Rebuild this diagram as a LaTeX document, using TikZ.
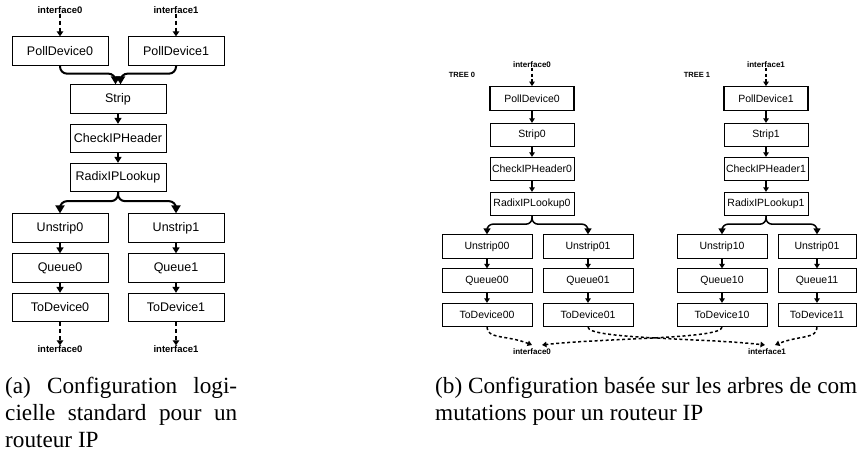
\documentclass[tikz,border=0pt]{standalone}
\usepackage{fontspec}
\setmainfont{Liberation Sans}
\newfontfamily\capfont{Liberation Serif}
\usetikzlibrary{arrows.meta}
\tikzset{
  lbox/.style={draw, line width=0.8pt, minimum width=96pt, minimum height=28.5pt, inner sep=0pt, font=\fontsize{12.5}{14}\selectfont},
  rbox/.style={draw, line width=0.8pt, minimum width=90pt, minimum height=23.5pt, inner sep=0pt, font=\fontsize{10.5}{12}\selectfont},
  rstem/.style={rbox, minimum width=84pt},
  lif/.style={font=\bfseries\fontsize{9.5}{11}\selectfont, inner sep=0pt},
  rif/.style={font=\bfseries\fontsize{8}{9}\selectfont, inner sep=0pt},
  treelbl/.style={font=\bfseries\fontsize{7.5}{9}\selectfont, inner sep=0pt},
  larr/.style={line width=2pt, -{Triangle[length=6pt,width=7pt]}},
  lcurve/.style={line width=2pt, rounded corners=7pt, -{Triangle[length=8pt,width=9pt]}},
  ldash/.style={line width=2.5pt, dash pattern=on 4pt off 3pt, -{Triangle[length=5pt,width=6.5pt]}},
  rarr/.style={line width=1.5pt, -{Triangle[length=4.5pt,width=5.5pt]}},
  rcurve/.style={line width=1.5pt, rounded corners=6pt, -{Triangle[length=6pt,width=7pt]}},
  rdash/.style={line width=1.5pt, dash pattern=on 3pt off 2.5pt, -{Triangle[length=4.5pt,width=5.5pt]}},
  capline/.style={anchor=base west, inner sep=0pt, font=\capfont\fontsize{23.2}{27}\selectfont}
}
\begin{document}
\begin{tikzpicture}[x=1pt,y=-1pt]
\useasboundingbox (0,0) rectangle (858,457);
% ---------- left diagram ----------
\node[lif] (li0) at (60,10) {interface0};
\node[lif] (li1) at (176,10) {interface1};
\node[lbox] (pd0) at (60,51) {PollDevice0};
\node[lbox] (pd1) at (176,51) {PollDevice1};
\node[lbox] (strip) at (118,99) {Strip};
\node[lbox] (chk) at (118,138.5) {CheckIPHeader};
\node[lbox] (rad) at (118,177.5) {RadixIPLookup};
\node[lbox] (us0) at (60,228) {Unstrip0};
\node[lbox] (us1) at (176,228) {Unstrip1};
\node[lbox] (q0) at (60,268) {Queue0};
\node[lbox] (q1) at (176,268) {Queue1};
\node[lbox] (td0) at (60,307.5) {ToDevice0};
\node[lbox] (td1) at (176,307.5) {ToDevice1};
\node[lif] (lo0) at (60,349) {interface0};
\node[lif] (lo1) at (176,349) {interface1};

\draw[ldash] (li0.south) -- (pd0.north);
\draw[ldash] (li1.south) -- (pd1.north);
\draw[lcurve] (pd0.south) -- ++(0,8) -| ([xshift=-2.5pt]strip.north);
\draw[lcurve] (pd1.south) -- ++(0,8) -| ([xshift=2.5pt]strip.north);
\draw[larr] (strip) -- (chk);
\draw[larr] (chk) -- (rad);
\draw[lcurve] (rad.south) -- ++(0,9) -| (us0.north);
\draw[lcurve] (rad.south) -- ++(0,9) -| (us1.north);
\draw[larr] (us0) -- (q0);
\draw[larr] (q0) -- (td0);
\draw[larr] (us1) -- (q1);
\draw[larr] (q1) -- (td1);
\draw[ldash] (td0.south) -- (lo0.north);
\draw[ldash] (td1.south) -- (lo1.north);

% ---------- right diagram ----------
\node[treelbl] (tr0) at (462,75) {TREE 0};
\node[treelbl] (tr1) at (697,75) {TREE 1};
\node[rif] (ri0) at (532,65) {interface0};
\node[rif] (ri1) at (766,65) {interface1};
\node[rstem, line width=1.3pt] (rpd0) at (532,98.5) {PollDevice0};
\node[rstem] (rst0) at (532,135) {Strip0};
\node[rstem] (rck0) at (532,169) {CheckIPHeader0};
\node[rstem] (rrd0) at (532,204) {RadixIPLookup0};
\node[rstem, line width=1.3pt] (rpd1) at (766,98.5) {PollDevice1};
\node[rstem] (rst1) at (766,135) {Strip1};
\node[rstem] (rck1) at (766,169) {CheckIPHeader1};
\node[rstem] (rrd1) at (766,204) {RadixIPLookup1};

\node[rbox] (us00) at (487,246.5) {Unstrip00};
\node[rbox] (us01) at (588,246.5) {Unstrip01};
\node[rbox] (us10) at (722,246.5) {Unstrip10};
\node[rbox, minimum width=78pt] (us11) at (817,246.5) {Unstrip01};
\node[rbox] (q00) at (487,280.5) {Queue00};
\node[rbox] (q01) at (588,280.5) {Queue01};
\node[rbox] (q10) at (722,280.5) {Queue10};
\node[rbox, minimum width=78pt] (q11) at (817,280.5) {Queue11};
\node[rbox] (td00) at (487,315) {ToDevice00};
\node[rbox] (td01) at (588,315) {ToDevice01};
\node[rbox] (td10) at (722,315) {ToDevice10};
\node[rbox, minimum width=78pt] (td11) at (817,315) {ToDevice11};

\node[rif] (ro0) at (532,352) {interface0};
\node[rif] (ro1) at (767,352) {interface1};
\coordinate (i0a) at (532,345);
\coordinate (i0b) at (542,345);
\coordinate (i1a) at (765,345);
\coordinate (i1b) at (775,345);

\draw[rdash] (ri0.south) -- (rpd0.north);
\draw[rdash] (ri1.south) -- (rpd1.north);
\foreach \t in {0,1}{
  \draw[rarr] (rpd\t) -- (rst\t);
  \draw[rarr] (rst\t) -- (rck\t);
  \draw[rarr] (rck\t) -- (rrd\t);
}
\draw[rcurve] (rrd0.south) -- ++(0,8) -| (us00.north);
\draw[rcurve] (rrd0.south) -- ++(0,8) -| (us01.north);
\draw[rcurve] (rrd1.south) -- ++(0,8) -| (us10.north);
\draw[rcurve] (rrd1.south) -- ++(0,8) -| (us11.north);
\foreach \l in {00,01,10,11}{
  \draw[rarr] (us\l) -- (q\l);
  \draw[rarr] (q\l) -- (td\l);
}
\draw[rdash] (td00.south) .. controls +(0,12) and +(-25,-10) .. (i0a);
\draw[rdash] (td10.south) .. controls +(0,12) and +(60,-7) .. (i0b);
\draw[rdash] (td01.south) .. controls +(0,12) and +(-60,-7) .. (i1a);
\draw[rdash] (td11.south) .. controls +(0,12) and +(25,-10) .. (i1b);

% ---------- captions ----------
\node[capline] (ca1) at (5,393) {\makebox[232pt][s]{(a) Configuration logi-}};
\node[capline] (ca2) at (5,420) {\makebox[232pt][s]{cielle standard pour un}};
\node[capline] (ca3) at (5,447) {routeur IP};
\node[capline] (cb1) at (435,393) {(b) Configuration basée sur les arbres de com};
\node[capline] (cb2) at (435,420) {mutations pour un routeur IP};
\end{tikzpicture}
\end{document}
